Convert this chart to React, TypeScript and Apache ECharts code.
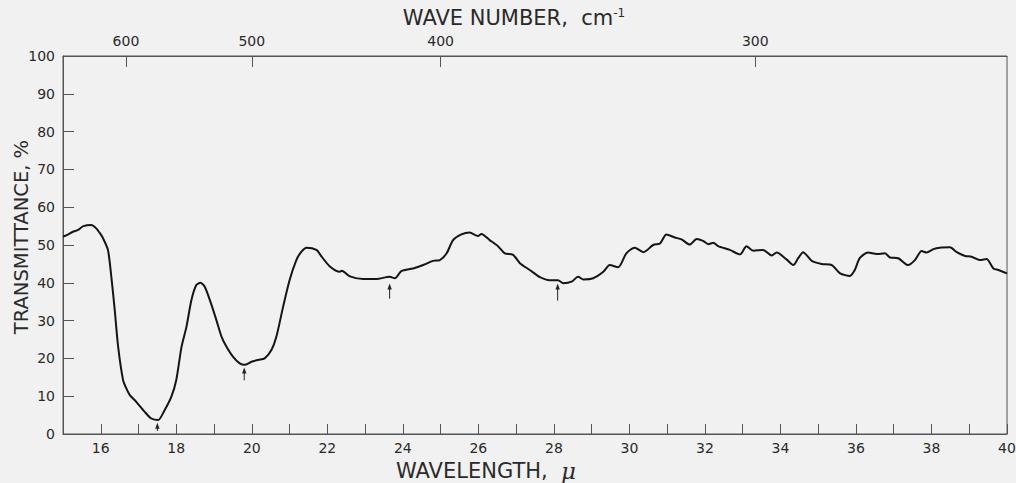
import React, { useEffect, useRef } from "react";
import * as echarts from "echarts";

const wavelength = [
  15.0, 15.1, 15.26, 15.4, 15.54, 15.75, 15.88, 16.0, 16.06, 16.19, 16.28, 16.37, 16.46, 16.59, 16.68, 16.77,
  16.94, 17.16, 17.34, 17.52, 17.69, 17.87, 18.0, 18.14, 18.27, 18.4, 18.53, 18.64, 18.75, 18.89, 19.06, 19.2,
  19.33, 19.5, 19.68, 19.81, 19.99, 20.17, 20.34, 20.52, 20.65, 20.83, 21.0, 21.18, 21.31, 21.45, 21.71, 21.85,
  22.06, 22.33, 22.38, 22.6, 22.95, 23.3, 23.65, 23.79, 23.96, 24.27, 24.54, 24.8, 24.98, 25.16, 25.33, 25.55,
  25.77, 25.99, 26.08, 26.3, 26.52, 26.7, 26.92, 27.1, 27.36, 27.63, 27.89, 28.11, 28.25, 28.47, 28.64, 28.78,
  29.04, 29.31, 29.48, 29.7, 29.92, 30.14, 30.37, 30.63, 30.81, 30.98, 31.2, 31.38, 31.6, 31.78, 31.95, 32.09,
  32.22, 32.35, 32.66, 32.93, 33.1, 33.28, 33.54, 33.77, 33.9, 34.16, 34.34, 34.47, 34.6, 34.83, 35.09, 35.36,
  35.58, 35.84, 35.97, 36.1, 36.32, 36.55, 36.77, 36.9, 37.12, 37.38, 37.56, 37.74, 37.87, 38.05, 38.22, 38.49,
  38.67, 38.89, 39.06, 39.28, 39.46, 39.64, 39.77, 40.0,
];

const transmittance = [
  52.2, 52.6, 53.5, 54.0, 55.0, 55.3, 54.4, 52.8, 51.8, 48.7, 41.6, 32.8, 23.1, 14.3, 12.0, 10.3,
  8.5, 5.9, 4.1, 3.7, 6.3, 9.9, 14.3, 23.1, 28.4, 35.4, 39.4, 40.0, 39.0, 35.4, 30.2, 25.7,
  23.1, 20.5, 18.7, 18.3, 19.1, 19.6, 20.0, 22.2, 25.7, 33.7, 40.7, 46.0, 48.2, 49.3, 48.7, 46.9,
  44.4, 42.9, 43.2, 41.7, 41.0, 41.0, 41.6, 41.2, 43.1, 43.8, 44.7, 45.8, 46.0, 47.8, 51.3, 52.8,
  53.3, 52.4, 52.9, 51.3, 49.7, 47.8, 47.4, 45.2, 43.4, 41.5, 40.7, 40.7, 39.9, 40.3, 41.6, 40.9,
  41.2, 42.9, 44.7, 44.1, 47.8, 49.3, 48.1, 50.0, 50.4, 52.8, 52.0, 51.5, 50.1, 51.6, 51.1, 50.2,
  50.6, 49.7, 48.7, 47.5, 49.7, 48.5, 48.7, 47.2, 48.0, 46.2, 44.7, 46.5, 48.1, 45.8, 45.0, 44.7,
  42.5, 41.8, 43.4, 46.5, 48.0, 47.6, 47.8, 46.7, 46.5, 44.7, 46.0, 48.4, 48.0, 48.9, 49.3, 49.4,
  48.1, 47.1, 46.9, 46.0, 46.3, 43.8, 43.4, 42.5,
];

// Arrows marking band positions (wavelength, tip value, tail value)
const arrowWavelength = [17.5, 19.8, 23.65, 28.1];
const arrowTip = [3.0, 17.6, 39.8, 39.8];
const arrowTail = [0.8, 14.2, 35.8, 35.3];

// Top axis wave numbers (cm-1)
const waveNumbers = [600, 500, 400, 300];

const FONT = "'DejaVu Sans', 'Liberation Sans', sans-serif";
const TEXT = "#2a2a2a";
const AXIS = "#555";

export default function App() {
  const ref = useRef<HTMLDivElement>(null);

  useEffect(() => {
    if (!ref.current) return;
    const chart = echarts.init(ref.current, undefined, { renderer: "svg" });
    const linePoints = wavelength.map((w, i) => [w, transmittance[i]]);
    const arrowData = arrowWavelength.map((w, i) => [w, arrowTip[i], arrowTail[i]]);
    const topPositions = waveNumbers.map((n) => 10000 / n);

    chart.setOption({
      animation: false,
      backgroundColor: "#f1f1f1",
      textStyle: { fontFamily: FONT },
      grid: {
        left: 63,
        right: 9,
        top: 56,
        bottom: 49,
        outerBoundsMode: "none",
        containLabel: false,
        show: true,
        borderColor: AXIS,
        borderWidth: 1,
        backgroundColor: "transparent",
      },
      xAxis: [
        {
          type: "value",
          position: "bottom",
          min: 15,
          max: 40,
          interval: 1,
          name: "WAVELENGTH,  {mu|μ}",
          nameLocation: "middle",
          nameGap: 24,
          nameTextStyle: {
            fontSize: 21,
            color: TEXT,
            fontFamily: FONT,
            padding: [0, 98, 0, 0],
            rich: { mu: { fontSize: 23, fontStyle: "italic", fontFamily: "'DejaVu Serif', serif", color: TEXT } },
          },
          axisLine: { show: true, lineStyle: { color: AXIS, width: 1 } },
          axisTick: { show: true, inside: true, length: 10, lineStyle: { color: AXIS } },
          axisLabel: {
            fontSize: 14,
            color: TEXT,
            margin: 7,
            formatter: (v: number) => (v > 15 && v % 2 === 0 ? String(v) : ""),
          },
          splitLine: { show: false },
        },
        {
          type: "value",
          position: "top",
          min: 15,
          max: 40,
          name: "WAVE NUMBER,  cm{sup|-1}",
          nameLocation: "middle",
          nameGap: 28,
          nameTextStyle: {
            fontSize: 21,
            color: TEXT,
            fontFamily: FONT,
            padding: [0, 42, 0, 0],
            rich: { sup: { fontSize: 12, verticalAlign: "top", padding: [0, 0, 9, 0], color: TEXT } },
          },
          axisLine: { show: true, lineStyle: { color: AXIS, width: 1 } },
          axisTick: { show: true, inside: true, length: 11, customValues: topPositions, lineStyle: { color: AXIS } },
          axisLabel: {
            fontSize: 14,
            color: TEXT,
            margin: 8,
            customValues: topPositions,
            formatter: (v: number) => String(Math.round(10000 / v)),
          },
          splitLine: { show: false },
        },
      ],
      yAxis: {
        type: "value",
        min: 0,
        max: 100,
        interval: 10,
        name: "TRANSMITTANCE, %",
        nameLocation: "middle",
        nameGap: 32,
        nameMoveOverlap: false,
        nameTextStyle: { fontSize: 19.5, color: TEXT, fontFamily: FONT, padding: [0, 0, 0, 16] },
        axisLine: { show: true, lineStyle: { color: AXIS, width: 1 } },
        axisTick: { show: true, inside: true, length: 11, lineStyle: { color: AXIS } },
        axisLabel: { fontSize: 14, color: TEXT, margin: 8 },
        splitLine: { show: false },
      },
      series: [
        {
          type: "line",
          data: linePoints,
          xAxisIndex: 0,
          yAxisIndex: 0,
          showSymbol: false,
          smooth: 0.25,
          lineStyle: { color: "#151515", width: 2 },
          silent: true,
        },
        {
          type: "custom",
          xAxisIndex: 0,
          yAxisIndex: 0,
          data: arrowData,
          silent: true,
          renderItem: (params: any, api: any) => {
            const tip = api.coord([api.value(0), api.value(1)]);
            const tail = api.coord([api.value(0), api.value(2)]);
            return {
              type: "group",
              children: [
                {
                  type: "line",
                  shape: { x1: tail[0], y1: tail[1], x2: tip[0], y2: tip[1] + 3 },
                  style: { stroke: "#222", lineWidth: 1 },
                },
                {
                  type: "polygon",
                  shape: {
                    points: [
                      [tip[0], tip[1]],
                      [tip[0] - 2.2, tip[1] + 6],
                      [tip[0] + 2.2, tip[1] + 6],
                    ],
                  },
                  style: { fill: "#222" },
                },
              ],
            };
          },
        },
      ],
    });

    return () => chart.dispose();
  }, []);

  return (
    <div
      ref={ref}
      style={{ position: "fixed", left: 0, top: 0, width: 1016, height: 483 }}
    />
  );
}
